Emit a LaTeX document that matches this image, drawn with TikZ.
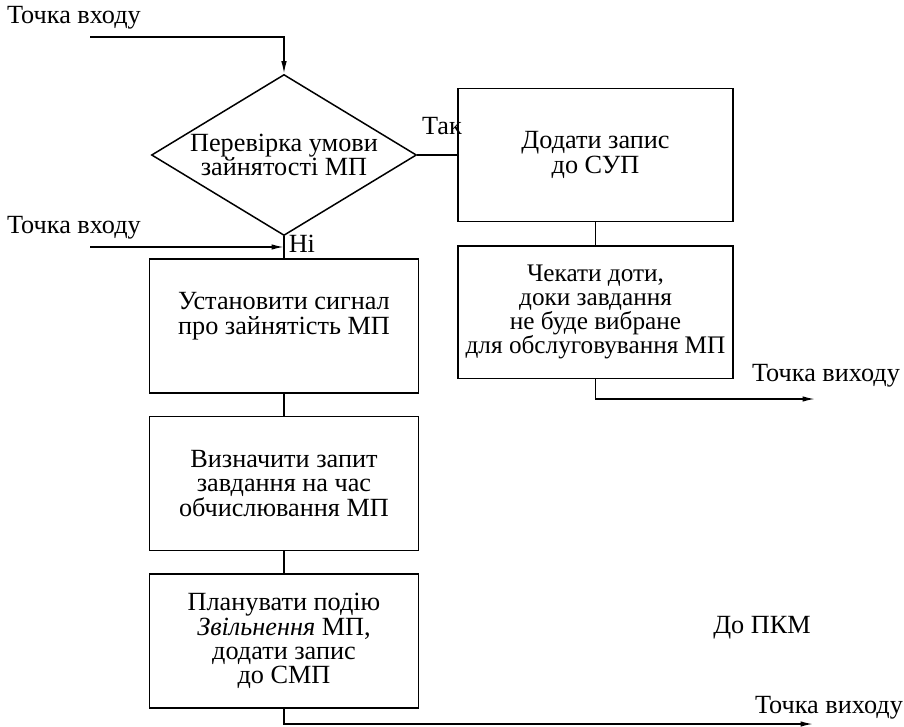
\documentclass[tikz,border=0pt]{standalone}
\usepackage{fontspec}
\setmainfont{Liberation Serif}
\usetikzlibrary{arrows.meta,positioning,calc,shapes.geometric}

\begin{document}
\begin{tikzpicture}[>={Latex[length=5pt,width=2.2pt]},line width=0.6pt,node distance=8.8pt,x=0.4pt,y=-0.4pt,
  font=\fontsize{10.5}{9.7}\selectfont,
  box/.style={draw,align=center,minimum width=107.6pt,minimum height=53.6pt,inner sep=2pt},
  rbox/.style={box,minimum width=110pt,minimum height=53pt,inner xsep=0pt},
  cond/.style={draw,diamond,aspect=1.65,align=center,minimum width=106pt,minimum height=64.4pt,inner sep=0pt},
  lbl/.style={inner sep=0pt}]
\useasboundingbox (0,0) rectangle (904,726);
\node[cond] (check) at (284,155) {Перевірка умови\\зайнятості МП};
\node[rbox,right=16pt of check] (add) {Додати запис\\до СУП};
\node[rbox,below=9.2pt of add,font=\fontsize{10.1}{9.7}\selectfont] (wait) {Чекати доти,\\доки завдання\\не буде вибране\\для обслуговування МП};
\node[box,below=of check,text depth=10pt] (busy) {Установити сигнал\\про зайнятість МП};
\node[box,below=of busy] (query) {Визначити запит\\завдання на час\\обчислювання МП};
\node[box,below=of query] (plan) {Планувати подію\\\textit{Звільнення} МП,\\додати запис\\до СМП};
\coordinate (join) at ($(check.south)!0.5!(busy.north)$);
% входи та виходи
\coordinate (in1) at (90,37);
\coordinate (in2) at (90,247);
\coordinate (out1) at (815,399);
\coordinate (out2) at (813,724);
\node[lbl] (in1lbl) at (74,18) {Точка входу};
\node[lbl] (in2lbl) at (74,228) {Точка входу};
\node[lbl] (out1lbl) at (826,376) {Точка виходу};
\node[lbl] (out2lbl) at (829,708) {Точка виходу};
\node[lbl] (pkm) at (762,628) {До ПКМ};
\node[lbl,above right=7.6pt and 1.6pt of check.east] (yes) {Так};
\node[lbl,right=1.6pt of join,yshift=1.5pt] (no) {Ні};
\draw[->] (in1) -| (check.north);
\draw[->] (in2) -- (in2 -| join);
\draw (check.east) -- (add.west);
\draw (check.south) -- (busy.north);
\draw (add) -- (wait);
\draw (busy) -- (query);
\draw (query) -- (plan);
\draw[->] (wait.south) |- (out1);
\draw[->] (plan.south) |- (out2);
\end{tikzpicture}
\end{document}
